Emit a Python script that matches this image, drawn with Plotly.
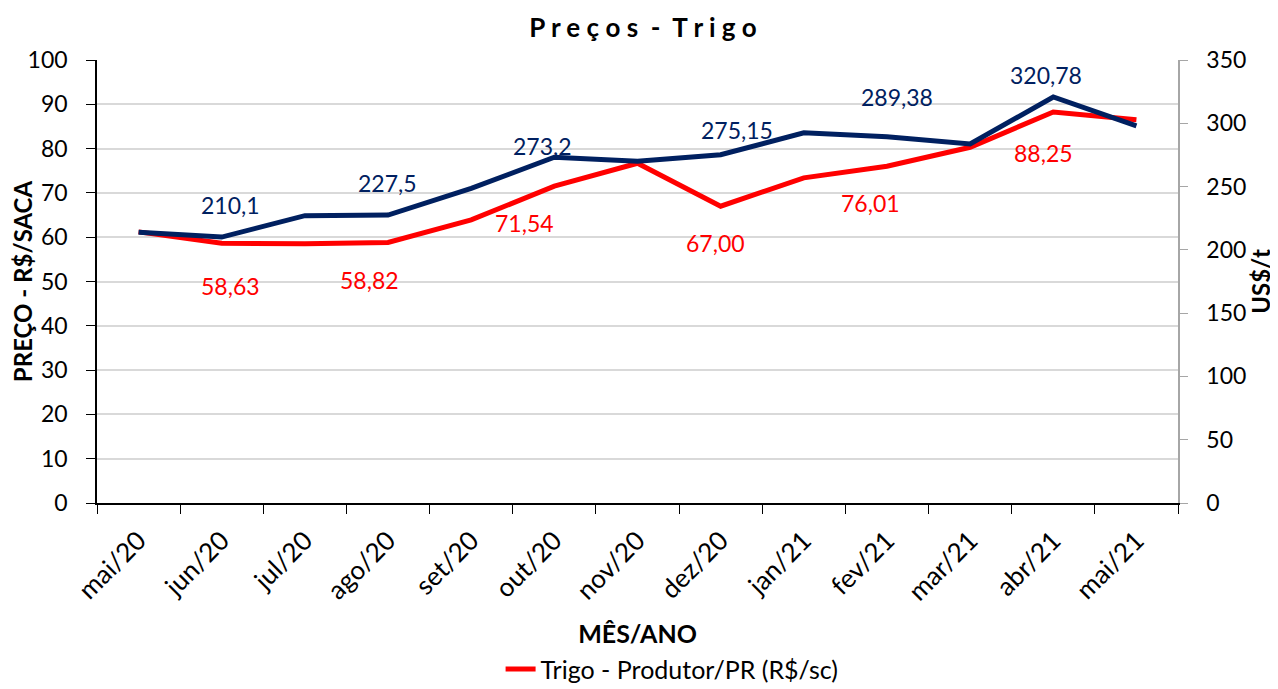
import plotly.graph_objects as go

months = ["mai/20", "jun/20", "jul/20", "ago/20", "set/20", "out/20", "nov/20",
          "dez/20", "jan/21", "fev/21", "mar/21", "abr/21", "mai/21"]
produtor_rs_sc = [61.2, 58.63, 58.5, 58.82, 63.9, 71.54, 76.7, 67.00, 73.4, 76.01, 80.3, 88.25, 86.5]
externo_us_t = [214.0, 210.1, 227.0, 227.5, 248.6, 273.2, 270.0, 275.15, 292.5, 289.38, 283.6, 320.78, 298.0]

red_labels = ["", "58,63", "", "58,82", "", "71,54", "", "67,00", "", "76,01", "", "88,25", ""]
navy_labels = ["", "210,1", "", "227,5", "", "273,2", "", "275,15", "", "289,38", "", "320,78", ""]

RED = "#FF0000"
NAVY = "#002060"
FONT = "Lato"

# label offsets (style)
red_shift = {1: (9, -43), 3: (-19, -38), 5: (-30, -37), 7: (-5, -37), 9: (-16, -37), 11: (-10, -41)}
navy_shift = {1: (9, 32), 3: (-1, 32), 5: (-12, 11), 7: (16, 25), 9: (10, 40), 11: (-7, 22)}

fig = go.Figure()
fig.add_trace(go.Scatter(x=months, y=produtor_rs_sc, mode="lines", name="Trigo - Produtor/PR (R$/sc)",
                         line=dict(color=RED, width=5), yaxis="y"))
fig.add_trace(go.Scatter(x=months, y=externo_us_t, mode="lines", name="Trigo - US$/t",
                         line=dict(color=NAVY, width=5), yaxis="y2", showlegend=False))

ann = []
for i, t in enumerate(red_labels):
    if t:
        dx, dy = red_shift[i]
        ann.append(dict(x=months[i], y=produtor_rs_sc[i], xref="x", yref="y", text=t, showarrow=False,
                        xshift=dx, yshift=dy, font=dict(color=RED, size=23, family=FONT)))
for i, t in enumerate(navy_labels):
    if t:
        dx, dy = navy_shift[i]
        ann.append(dict(x=months[i], y=externo_us_t[i], xref="x", yref="y2", text=t, showarrow=False,
                        xshift=dx, yshift=dy, font=dict(color=NAVY, size=23, family=FONT)))

# page body adds an 8px offset; the figure is sized to fit the 1278x689 window
fig.update_layout(
    width=1270, height=681,
    margin=dict(l=89, r=100, t=52, b=186, autoexpand=False),
    paper_bgcolor="white", plot_bgcolor="white",
    font=dict(family=FONT, color="black", size=24),
    title=dict(text="<b>P r e ç o s  -  T r i g o</b>", x=0.5, xanchor="center", y=1 - 20 / 681, yanchor="middle",
               font=dict(size=26, family=FONT, color="black")),
    xaxis=dict(type="category", range=[-0.5, 12.5], tickangle=-45, tickson="boundaries", ticks="outside",
               ticklen=9, tickcolor="black", showline=True, linecolor="black", linewidth=2,
               showgrid=False, tickfont=dict(size=26), ticklabelstandoff=10,
               title=dict(text="<b>MÊS/ANO</b>", font=dict(size=25), standoff=20)),
    yaxis=dict(range=[0, 100], dtick=10, showgrid=True, gridcolor="#D9D9D9", gridwidth=1.5,
               showline=True, linecolor="black", linewidth=1.5, ticks="outside", ticklen=9,
               tickcolor="black", tickfont=dict(size=23), zeroline=False, ticklabelstandoff=14,
               title=dict(text="<b>PREÇO - R$/SACA</b>", font=dict(size=24), standoff=6)),
    yaxis2=dict(range=[0, 350], dtick=50, overlaying="y", side="right", showgrid=False,
                showline=True, linecolor="#A6A6A6", linewidth=1.5, ticks="outside", ticklen=8,
                tickcolor="#A6A6A6", tickfont=dict(size=23), zeroline=False, ticklabelstandoff=14,
                title=dict(text="<b>US$/t</b>", font=dict(size=24), standoff=2)),
    legend=dict(orientation="h", x=0.532, xanchor="center", y=-0.375, yanchor="middle",
                font=dict(size=25)),
    annotations=ann,
)

fig.write_html("out.html")
